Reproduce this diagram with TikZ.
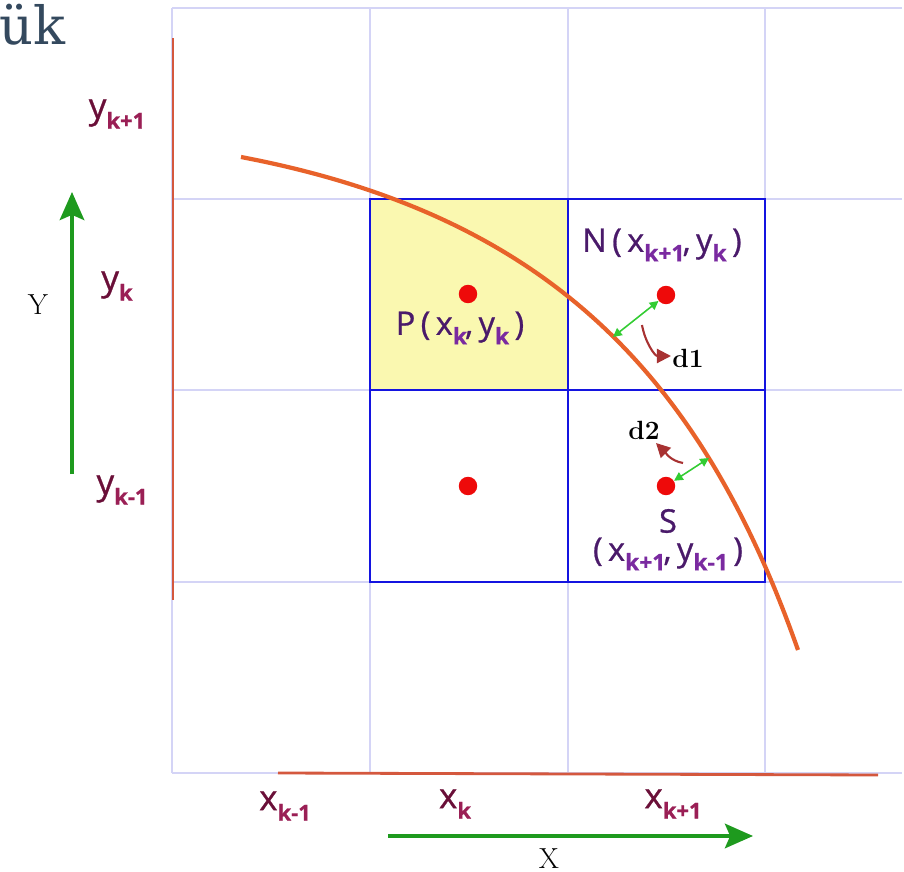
\documentclass[tikz,border=0pt]{standalone}
\usepackage{fontspec}
\newfontfamily\labfont{Open Sans}[FakeBold=0.8]
\newfontfamily\fragfont{DejaVu Serif}
\usetikzlibrary{arrows.meta}
\definecolor{gridc}{HTML}{D4D4F6}
\definecolor{boxc}{HTML}{1414E0}
\definecolor{curvec}{HTML}{E8622A}
\definecolor{axisc}{HTML}{D4583E}
\definecolor{dotc}{HTML}{EE0A0A}
\definecolor{greenc}{HTML}{1E9A1E}
\definecolor{lgreen}{HTML}{33CC33}
\definecolor{purp}{HTML}{4A1A6A}
\definecolor{purpsub}{HTML}{7A2AA0}
\definecolor{maroon}{HTML}{6A0F38}
\definecolor{maroonsub}{HTML}{9A1F55}
\definecolor{darr}{HTML}{A83232}
\definecolor{slate}{HTML}{34495E}
\definecolor{yell}{HTML}{FAF8B0}
\newcommand{\psub}[1]{\raisebox{-0.55ex}{\fontsize{13}{13}\selectfont\bfseries\color{purpsub}#1}}
\newcommand{\asub}[1]{\raisebox{-0.55ex}{\fontsize{12.5}{12.5}\selectfont\bfseries\color{maroonsub}#1}}
\tikzset{
  gridline/.style={draw=gridc, line width=1pt},
  boxline/.style={draw=boxc, line width=1.5pt},
  dotstyle/.style={circle, fill=dotc, inner sep=0pt, minimum size=10.5pt},
  ptlab/.style={font=\labfont\fontsize{18.5}{20}\selectfont, text=purp, inner sep=0pt},
  axlab/.style={font=\labfont\fontsize{20}{20}\selectfont, text=maroon, inner sep=0pt},
  axisname/.style={font=\fontsize{16.5}{16.5}\selectfont, text=black, inner sep=0pt},
  dlab/.style={font=\fontsize{15}{15}\selectfont\bfseries, text=black, inner sep=0pt},
  garrow/.style={draw=greenc, line width=1.8pt, -{Stealth[length=16pt,width=14pt,inset=3pt]}},
  dist/.style={draw=lgreen, line width=0.9pt, {Triangle[length=5pt,width=5pt]}-{Triangle[length=5pt,width=5pt]}},
  darrow/.style={draw=darr, line width=1.2pt, -{Triangle[length=8pt,width=8pt]}},
}
\begin{document}
\begin{tikzpicture}[x=0.02cm, y=-0.02cm]
\useasboundingbox (0,0) rectangle (904,872);
% yellow cell
\fill[yell] (370,199) rectangle (568,390);
% light grid
\foreach \xx in {172,370,568,765} \draw[gridline] (\xx,8) -- (\xx,773);
\foreach \yy in {8,199,390,582,773} \draw[gridline] (172,\yy) -- (902,\yy);
% blue boxes
\draw[boxline] (370,199) rectangle (765,582);
\draw[boxline] (568,199) -- (568,582);
\draw[boxline] (370,390) -- (765,390);
% axis lines
\draw[draw=axisc, line width=1.6pt] (173,38) -- (173,600);
\draw[draw=axisc, line width=1.6pt] (278,773) -- (878,775);
% curve
\draw[curvec, line width=2.4pt] (241,157) .. controls (545,215) and (700,372) .. (798,650);
\coordinate (cN) at (613,337);
\coordinate (cS) at (709,458);
% dots
\node[dotstyle] (P) at (468,294) {};
\node[dotstyle] (N) at (666,295) {};
\node[dotstyle] (Q) at (468,486) {};
\node[dotstyle] (S) at (666,486) {};
% distances
\draw[dist] (cN) -- (N);
\draw[dist] (S) -- (cS);
\coordinate (d1s) at (642,325);
\coordinate (d1e) at (671,356);
\coordinate (d2s) at (683,463);
\coordinate (d2e) at (656,443);
\draw[darrow] (d1s) to[out=-80,in=180] (d1e);
\draw[darrow] (d2s) to[out=170,in=-45] (d2e);
\node[dlab, anchor=west] (d1) at (672,358) {d1};
\node[dlab] (d2) at (644,430) {d2};
% point labels
\node[ptlab] (Nl) at (662,245) {N\,(\,x\psub{k+1}\hspace{-1pt},\,y\psub{k}\,)};
\node[ptlab] (Pl) at (460,328) {P\,(\,x\psub{k}\hspace{-1pt},\,y\psub{k}\,)};
\node[ptlab] (Sl) at (668,521) {S};
\node[ptlab] (Sc) at (668,554) {(\,x\psub{k+1}\hspace{-1pt},\,y\psub{k-1}\,)};
% axis labels
\node[axlab] (yk1) at (117,114) {y\asub{k+1}};
\node[axlab] (yk) at (117,286) {y\asub{k}};
\node[axlab] (ykm) at (122,490) {y\asub{k-1}};
\node[axlab] (xkm) at (285,806) {x\asub{k-1}};
\node[axlab] (xk) at (455,804) {x\asub{k}};
\node[axlab] (xkp) at (673,804) {x\asub{k+1}};
% axis arrows
\coordinate (ya0) at (72,474);
\coordinate (ya1) at (72,192);
\coordinate (xa0) at (388,836);
\coordinate (xa1) at (753,836);
\draw[garrow] (ya0) -- (ya1);
\draw[garrow] (xa0) -- (xa1);
\node[axisname] (Yn) at (38,305) {Y};
\node[axisname] (Xn) at (549,859) {X};
% top-left fragment
\node[anchor=base west, inner sep=0pt, text=slate, font=\fragfont\fontsize{30}{30}\selectfont] (frag) at (-1,45) {ük};
\end{tikzpicture}
\end{document}
